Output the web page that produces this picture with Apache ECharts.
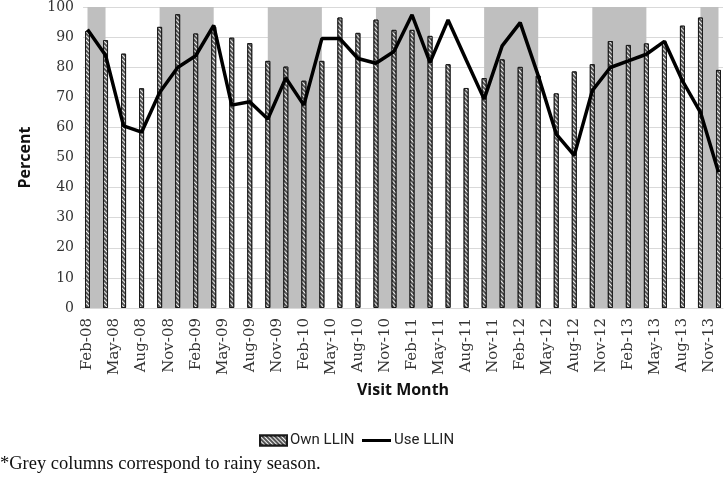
<!DOCTYPE html>
<html>
<head>
<meta charset="utf-8">
<script src="https://cdn.jsdelivr.net/npm/echarts@6/dist/echarts.min.js"></script>
<style>
html,body{margin:0;padding:0;background:#fff;}
#chart{width:725px;height:477px;}
</style>
</head>
<body>
<div id="chart"></div>
<script>
// Axis months (monthly category axis, Feb-08 .. Dec-13)
var months = [
 'Feb-08','Mar-08','Apr-08','May-08','Jun-08','Jul-08','Aug-08','Sep-08','Oct-08','Nov-08','Dec-08',
 'Jan-09','Feb-09','Mar-09','Apr-09','May-09','Jun-09','Jul-09','Aug-09','Sep-09','Oct-09','Nov-09','Dec-09',
 'Jan-10','Feb-10','Mar-10','Apr-10','May-10','Jun-10','Jul-10','Aug-10','Sep-10','Oct-10','Nov-10','Dec-10',
 'Jan-11','Feb-11','Mar-11','Apr-11','May-11','Jun-11','Jul-11','Aug-11','Sep-11','Oct-11','Nov-11','Dec-11',
 'Jan-12','Feb-12','Mar-12','Apr-12','May-12','Jun-12','Jul-12','Aug-12','Sep-12','Oct-12','Nov-12','Dec-12',
 'Jan-13','Feb-13','Mar-13','Apr-13','May-13','Jun-13','Jul-13','Aug-13','Sep-13','Oct-13','Nov-13','Dec-13'
];
// Visit months (bimonthly)
var visitMonths = [
 'Feb-08','Apr-08','Jun-08','Aug-08','Oct-08','Dec-08',
 'Feb-09','Apr-09','Jun-09','Aug-09','Oct-09','Dec-09',
 'Feb-10','Apr-10','Jun-10','Aug-10','Oct-10','Dec-10',
 'Feb-11','Apr-11','Jun-11','Aug-11','Oct-11','Dec-11',
 'Feb-12','Apr-12','Jun-12','Aug-12','Oct-12','Dec-12',
 'Feb-13','Apr-13','Jun-13','Aug-13','Oct-13','Dec-13'
];
var ownLLIN = [
 92, 89, 84.5, 73, 93.4, 97.6,
 91.2, 93.5, 89.8, 88, 82.1, 80.2,
 75.5, 82.1, 96.5, 91.4, 95.8, 92.4,
 92.4, 90.4, 81, 73.1, 76.4, 82.6,
 80.1, 77.2, 71.3, 78.6, 81, 88.7,
 87.4, 87.9, 88.5, 93.8, 96.5, 79.1
];
var useLLIN = [
 92.5, 84, 60.5, 58.4, 71.6, 79.9,
 83.8, 93.9, 67.4, 68.5, 62.8, 76.4,
 67.4, 89.5, 89.5, 82.9, 81.3, 85.2,
 97.4, 81.6, 95.7, 82.5, 69.4, 87.1,
 94.8, 77.2, 57.8, 50.7, 72.2, 79.9,
 82.1, 84.3, 88.6, 75.5, 65, 45.1
];
// Rainy seasons (grey columns), start/end visit months
var rainySeasons = [
 ['Feb-08','Apr-08'], ['Oct-08','Apr-09'], ['Oct-09','Apr-10'],
 ['Oct-10','Apr-11'], ['Oct-11','Apr-12'], ['Oct-12','Apr-13'], ['Oct-13','Dec-13']
];
var yTicks = {min: 0, max: 100, interval: 10};

var chart = echarts.init(document.getElementById('chart'), null, {renderer: 'canvas'});
var serif = 'DejaVu Serif';
var legendFont = {fontFamily: 'Liberation Sans Narrow, Roboto, sans-serif', fontSize: 15, color: '#222', padding: [0, 0, 0, -2]};
var option = {
  animation: false,
  grid: {left: 83, right: 2, top: 6, bottom: 169, containLabel: false},
  legend: [{
    top: 428, left: 254,
    itemWidth: 27, itemHeight: 10,
    textStyle: legendFont,
    data: [{name: 'Own LLIN', icon: 'rect'}]
  }, {
    top: 428, left: 357,
    itemWidth: 29, itemHeight: 3,
    textStyle: legendFont,
    data: [{name: 'Use LLIN', icon: 'rect', itemStyle: {color: '#000'}}]
  }],
  graphic: [{
    type: 'text', left: 0, top: 455,
    style: {text: '*Grey columns correspond to rainy season.', font: '18.5px "Liberation Serif"', fill: '#111'}
  }],
  xAxis: {
    type: 'category', data: months, boundaryGap: true,
    name: 'Visit Month', nameLocation: 'middle', nameGap: 72,
    nameTextStyle: {fontFamily: 'Open Sans', fontWeight: 'bold', fontSize: 16, color: '#111'},
    axisLine: {show: true, lineStyle: {color: '#d9d9d9', width: 1}},
    axisTick: {show: false},
    axisLabel: {interval: 2, rotate: 90, margin: 10, fontFamily: serif, fontSize: 15, color: '#333'}
  },
  yAxis: {
    type: 'value', min: yTicks.min, max: yTicks.max, interval: yTicks.interval,
    name: 'Percent', nameLocation: 'middle', nameGap: 50, nameRotate: 90,
    nameTextStyle: {fontFamily: 'Open Sans', fontWeight: 'bold', fontSize: 16, color: '#111'},
    axisLine: {show: false}, axisTick: {show: false},
    axisLabel: {margin: 9, fontFamily: serif, fontSize: 14, color: '#333'},
    splitLine: {lineStyle: {color: '#d9d9d9', width: 1}}
  },
  series: [
    {
      name: 'Rainy season', type: 'custom', silent: true, z: 1,
      data: rainySeasons.map(function (s) { return [months.indexOf(s[0]), months.indexOf(s[1])]; }),
      encode: {x: [0, 1]},
      renderItem: function (params, api) {
        var p0 = api.coord([api.value(0), yTicks.max]);
        var p1 = api.coord([api.value(1), yTicks.min]);
        return {
          type: 'rect',
          shape: {x: p0[0], y: p0[1], width: p1[0] - p0[0], height: p1[1] - p0[1]},
          style: {fill: '#bfbfbf'}
        };
      }
    },
    {
      name: 'Own LLIN', type: 'bar', barWidth: 5,
      data: visitMonths.map(function (m, i) { return [m, ownLLIN[i]]; }),
      itemStyle: {
        color: '#555', borderColor: '#1a1a1a', borderWidth: 1,
        decal: {symbol: 'rect', symbolSize: 1, color: '#f2f2f2', dashArrayX: [[1, 0]], dashArrayY: [1, 2], rotation: Math.PI / 4}
      },
      z: 2
    },
    {
      name: 'Use LLIN', type: 'line', symbol: 'none', showSymbol: false,
      data: visitMonths.map(function (m, i) { return [m, useLLIN[i]]; }),
      lineStyle: {color: '#000', width: 3.5}, itemStyle: {color: '#000'},
      z: 3
    }
  ]
};
chart.setOption(option);
</script>
</body>
</html>
